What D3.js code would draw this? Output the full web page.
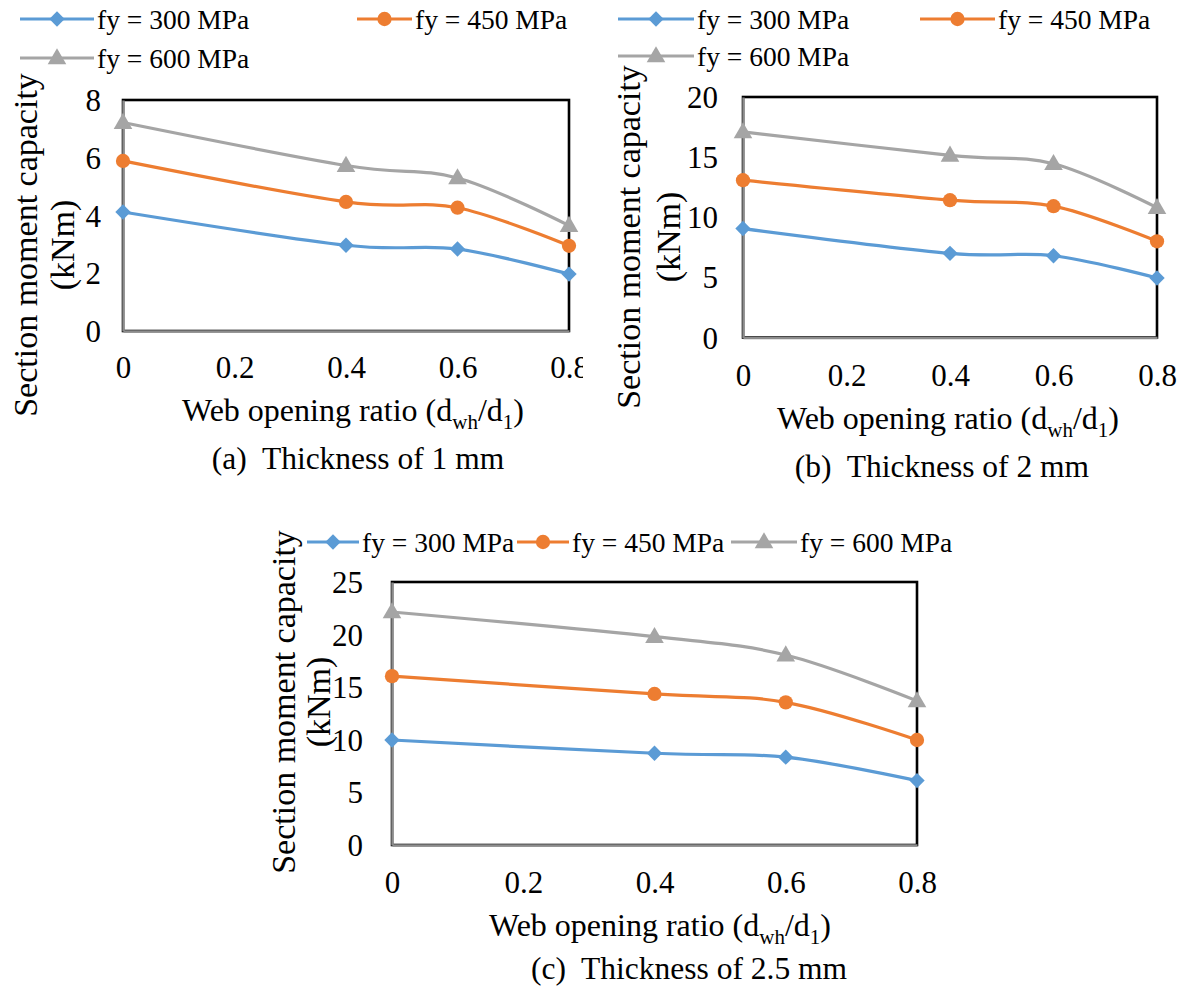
<!DOCTYPE html>
<html>
<head>
<meta charset="utf-8">
<script src="https://cdn.jsdelivr.net/npm/d3@7"></script>
<style>
  html, body { margin: 0; padding: 0; background: #fff; }
  svg { display: block; }
  text { font-family: "Liberation Serif", "Times New Roman", Tinos, serif; fill: #000; white-space: pre; }
</style>
</head>
<body>
<svg id="chart" width="1185" height="987"></svg>
<script>
// ---------- data ----------
const xValues = [0, 0.4, 0.6, 0.8];
const xTicks = [0, 0.2, 0.4, 0.6, 0.8];
const seriesNames = ["fy = 300 MPa", "fy = 450 MPa", "fy = 600 MPa"];
const seriesColors = ["#5B9BD5", "#ED7D31", "#A5A5A5"];
const seriesSymbols = ["diamond", "circle", "triangle"];

const a300 = [4.12, 2.97, 2.84, 1.97];
const a450 = [5.89, 4.47, 4.27, 2.95];
const a600 = [7.22, 5.73, 5.30, 3.65];

const b300 = [9.06, 7.00, 6.80, 4.95];
const b450 = [13.08, 11.42, 10.92, 8.00];
const b600 = [17.10, 15.15, 14.45, 10.80];

const c300 = [9.98, 8.72, 8.35, 6.12];
const c450 = [16.05, 14.36, 13.56, 9.98];
const c600 = [22.15, 19.80, 18.06, 13.70];

const aYTicks = [0, 2, 4, 6, 8];
const bYTicks = [0, 5, 10, 15, 20];
const cYTicks = [0, 5, 10, 15, 20, 25];

const captions = ["(a)  Thickness of 1 mm", "(b)  Thickness of 2 mm", "(c)  Thickness of 2.5 mm"];

// ---------- layout ----------
const panels = [
  { series: [a300, a450, a600], yTicks: aYTicks, yMax: 8, caption: captions[0],
    x0: 123, x1: 569, y0: 331, y1: 100, yLabGap: 22, xLabY: 378, clip: 583,
    xTitle: [353, 421], capt: [358, 469], yT1: 25, yT2: 62, yTc: 245,
    legend: [[20, 19, 97], [357, 19, 415], [20, 58, 97]] },
  { series: [b300, b450, b600], yTicks: bYTicks, yMax: 20, caption: captions[1],
    x0: 743, x1: 1157, y0: 337.5, y1: 97, yLabGap: 25, xLabY: 386, clip: null,
    xTitle: [948, 429], capt: [942, 477], yT1: 628, yT2: 668, yTc: 237,
    legend: [[618, 19, 697], [920, 19, 998], [618, 56, 697]] },
  { series: [c300, c450, c600], yTicks: cYTicks, yMax: 25, caption: captions[2],
    x0: 392, x1: 917, y0: 845, y1: 582, yLabGap: 29, xLabY: 893, clip: null,
    xTitle: [660, 936], capt: [689, 979], yT1: 283, yT2: 318, yTc: 702,
    legend: [[307, 542, 362], [517, 542, 572], [731, 542, 800]] }
];

const svg = d3.select("#chart");
const defs = svg.append("defs");
defs.append("clipPath").attr("id", "clipA").append("rect")
  .attr("x", 0).attr("y", 0).attr("width", 583).attr("height", 987);

function drawMarker(g, kind, color, x, y) {
  if (kind === "diamond") {
    g.append("path").attr("d", d3.symbol().type(d3.symbolSquare).size(118)())
      .attr("fill", color).attr("transform", `translate(${x},${y}) rotate(45)`);
  } else if (kind === "circle") {
    g.append("path").attr("d", d3.symbol().type(d3.symbolCircle).size(160)())
      .attr("fill", color).attr("transform", `translate(${x},${y})`);
  } else {
    g.append("path").attr("d", d3.symbol().type(d3.symbolTriangle).size(150)())
      .attr("fill", color).attr("transform", `translate(${x},${y + 1})`);
  }
}

const FONT_TICK = 31, FONT_TITLE = 32, FONT_Y = 34, FONT_LEG = 27.5, FONT_CAP = 31.5;

panels.forEach((P, pi) => {
  const g = svg.append("g");
  if (P.clip) g.attr("clip-path", "url(#clipA)");
  const x = d3.scaleLinear().domain([0, 0.8]).range([P.x0, P.x1]);
  const y = d3.scaleLinear().domain([0, P.yMax]).range([P.y0, P.y1]);

  // plot frame
  g.append("rect").attr("x", P.x0).attr("y", P.y1)
    .attr("width", P.x1 - P.x0).attr("height", P.y0 - P.y1)
    .attr("fill", "none").attr("stroke", "#000").attr("stroke-width", 2.6);

  // axes (gray)
  const yAxis = d3.axisLeft(y).tickValues(P.yTicks).tickSize(0).tickPadding(P.yLabGap).tickFormat(d3.format("d"));
  const xAxis = d3.axisBottom(x).tickValues(xTicks).tickSize(0).tickPadding(0).tickFormat(d => d === 0 ? "0" : d3.format(".1f")(d));
  const ya = g.append("g").attr("transform", `translate(${P.x0},0)`).call(yAxis);
  ya.attr("font-family", null);
  ya.select(".domain").attr("stroke", "#8C8C8C").attr("stroke-width", 2.4);
  ya.selectAll("text").attr("font-size", FONT_TICK).attr("dy", "0.34em");
  const xa = g.append("g").attr("transform", `translate(0,${P.y0})`).call(xAxis);
  xa.attr("font-family", null);
  xa.select(".domain").attr("stroke", "#8C8C8C").attr("stroke-width", 2.4);
  xa.selectAll("text").attr("font-size", FONT_TICK)
    .attr("y", P.xLabY - P.y0).attr("dy", 0);

  // series
  const line = d3.line().x((d, i) => x(xValues[i])).y(d => y(d)).curve(d3.curveCatmullRom.alpha(0));
  P.series.forEach((s, si) => {
    g.append("path").datum(s).attr("d", line).attr("fill", "none")
      .attr("stroke", seriesColors[si]).attr("stroke-width", 3.2).attr("stroke-linejoin", "round");
  });
  P.series.forEach((s, si) => {
    s.forEach((v, i) => drawMarker(g, seriesSymbols[si], seriesColors[si], x(xValues[i]), y(v)));
  });

  // x title with subscripts
  const xt = g.append("text").attr("x", P.xTitle[0]).attr("y", P.xTitle[1])
    .attr("text-anchor", "middle").attr("font-size", FONT_TITLE);
  xt.append("tspan").text("Web opening ratio (d");
  xt.append("tspan").attr("dy", 8).attr("font-size", 21).text("wh");
  xt.append("tspan").attr("dy", -8).text("/d");
  xt.append("tspan").attr("dy", 8).attr("font-size", 21).text("1");
  xt.append("tspan").attr("dy", -8).text(")");

  // caption
  g.append("text").attr("x", P.capt[0]).attr("y", P.capt[1]).attr("text-anchor", "middle")
    .attr("font-size", FONT_CAP).text(P.caption);

  // y title (two lines)
  g.append("text").attr("transform", `translate(${P.yT1},${P.yTc}) rotate(-90)`)
    .attr("text-anchor", "middle").attr("dy", "0.35em").attr("font-size", FONT_Y).text("Section moment capacity");
  g.append("text").attr("transform", `translate(${P.yT2},${P.yTc}) rotate(-90)`)
    .attr("text-anchor", "middle").attr("dy", "0.35em").attr("font-size", FONT_Y).text("(kNm)");

  // legend
  P.legend.forEach((L, si) => {
    const [lx, ly, tx] = L;
    const lg = svg.append("g");
    lg.append("line").attr("x1", lx).attr("x2", tx - 3).attr("y1", ly).attr("y2", ly)
      .attr("stroke", seriesColors[si]).attr("stroke-width", 3.2);
    drawMarker(lg, seriesSymbols[si], seriesColors[si], (lx + tx - 3) / 2, ly);
    lg.append("text").attr("x", tx).attr("y", ly).attr("dy", "0.35em")
      .attr("font-size", FONT_LEG).text(seriesNames[si]);
  });
});
</script>
</body>
</html>
